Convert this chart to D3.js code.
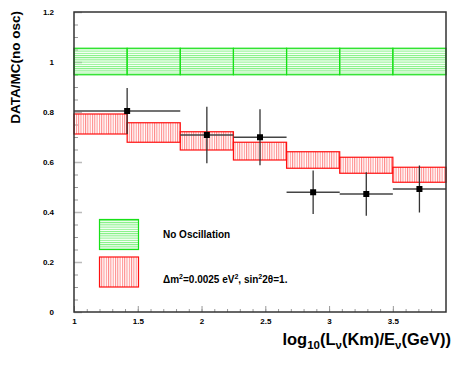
<!DOCTYPE html>
<html>
<meta charset="UTF-8">
<script src="https://d3js.org/d3.v7.min.js"></script>
<style>
  body { margin: 0; background: #fff; }
  text { font-family: "Liberation Sans", Arial, Helvetica, sans-serif; font-weight: bold; fill: #000; }
</style>
<body>
<svg id="ch" width="463" height="365"></svg>
<script>
// bin edges in log10(L/E)
var binEdges = [1, 1.4167, 1.8333, 2.25, 2.6667, 3.0833, 3.5, 3.9167];
// no oscillation band
var noOscLow  = [0.949, 0.949, 0.949, 0.949, 0.949, 0.949, 0.949];
var noOscHigh = [1.055, 1.055, 1.055, 1.055, 1.055, 1.055, 1.055];
// oscillation expectation band
var oscLow  = [0.712, 0.679, 0.648, 0.608, 0.575, 0.555, 0.519];
var oscHigh = [0.792, 0.757, 0.721, 0.679, 0.641, 0.619, 0.579];
// data points
var ptLo  = [1, 1.8333, 2.25, 2.6667, 3.0833, 3.5];
var ptHi  = [1.8333, 2.25, 2.6667, 3.0833, 3.5, 3.9167];
var ptVal = [0.804, 0.708, 0.699, 0.479, 0.472, 0.492];
var ptErr = [0.092, 0.113, 0.112, 0.087, 0.087, 0.094];
// ticks
var yMajor = [0, 0.2, 0.4, 0.6, 0.8, 1, 1.2];
var xMajor = [1, 1.5, 2, 2.5, 3, 3.5];

var svg = d3.select("#ch");
var pLeft = 74, pRight = 446, pTop = 12, pBottom = 312;

var x = d3.scaleLinear().domain([1, 3.9167]).range([pLeft, pRight]);
var y = d3.scaleLinear().domain([0, 1.2]).range([pBottom, pTop]);

// hatch patterns
var defs = svg.append("defs");
var pg = defs.append("pattern").attr("id", "hgreen")
  .attr("patternUnits", "userSpaceOnUse").attr("width", 10).attr("height", 2.2);
pg.append("line").attr("x1", 0).attr("x2", 10).attr("y1", 0.5).attr("y2", 0.5)
  .attr("stroke", "#7cf07c").attr("stroke-width", 1);
var pr = defs.append("pattern").attr("id", "vred")
  .attr("patternUnits", "userSpaceOnUse").attr("width", 2.3).attr("height", 10);
pr.append("line").attr("x1", 0.5).attr("x2", 0.5).attr("y1", 0).attr("y2", 10)
  .attr("stroke", "#ff8a8a").attr("stroke-width", 1);

// minor ticks
var yMinor = d3.range(0, 1.2001, 0.05);
var xMinor = d3.range(1, 3.9, 0.1);

svg.append("g")
  .attr("transform", "translate(" + pLeft + ",0)")
  .call(d3.axisLeft(y).tickValues(yMinor).tickSize(-4).tickFormat(""))
  .call(function (g) { g.select(".domain").remove(); g.selectAll("line").attr("stroke", "#999"); });

svg.append("g")
  .attr("transform", "translate(0," + pBottom + ")")
  .call(d3.axisBottom(x).tickValues(xMinor).tickSize(-3).tickFormat(""))
  .call(function (g) { g.select(".domain").remove(); g.selectAll("line").attr("stroke", "#999"); });

var yAx = svg.append("g")
  .attr("transform", "translate(" + pLeft + ",0)")
  .call(d3.axisLeft(y).tickValues(yMajor).tickSize(-8).tickPadding(20)
    .tickFormat(function (d) { return String(+d.toFixed(1)); }));
yAx.select(".domain").remove();
yAx.selectAll("line").attr("stroke", "#bbb").attr("stroke-width", 1.5);
yAx.selectAll("text").style("font-size", "8px").style("font-weight", "bold").attr("fill", "#000");

var xAx = svg.append("g")
  .attr("transform", "translate(0," + pBottom + ")")
  .call(d3.axisBottom(x).tickValues(xMajor).tickSize(-6).tickPadding(6)
    .tickFormat(function (d) { return String(d); }));
xAx.select(".domain").remove();
xAx.selectAll("line").attr("stroke", "#999");
xAx.selectAll("text").style("font-size", "8px").style("font-weight", "bold").attr("fill", "#000");

// no oscillation band
var bins = d3.range(7);
svg.append("g").selectAll("rect").data(bins).join("rect")
  .attr("x", function (i) { return x(binEdges[i]); })
  .attr("width", function (i) { return x(binEdges[i + 1]) - x(binEdges[i]); })
  .attr("y", function (i) { return y(noOscHigh[i]); })
  .attr("height", function (i) { return y(noOscLow[i]) - y(noOscHigh[i]); })
  .attr("fill", "url(#hgreen)")
  .attr("stroke", "#18e018").attr("stroke-width", 1.2);

// oscillation band
svg.append("g").selectAll("rect").data(bins).join("rect")
  .attr("x", function (i) { return x(binEdges[i]); })
  .attr("width", function (i) { return x(binEdges[i + 1]) - x(binEdges[i]); })
  .attr("y", function (i) { return y(oscHigh[i]); })
  .attr("height", function (i) { return y(oscLow[i]) - y(oscHigh[i]); })
  .attr("fill", "url(#vred)")
  .attr("stroke", "#ff1010").attr("stroke-width", 1.2);

// data with error bars
var pts = d3.range(ptVal.length);
var eb = svg.append("g");
eb.selectAll("line.h").data(pts).join("line").attr("class", "h")
  .attr("x1", function (i) { return x(ptLo[i]); })
  .attr("x2", function (i) { return x(ptHi[i]); })
  .attr("y1", function (i) { return y(ptVal[i]); })
  .attr("y2", function (i) { return y(ptVal[i]); })
  .attr("stroke", "#444").attr("stroke-width", 1.3);
eb.selectAll("line.v").data(pts).join("line").attr("class", "v")
  .attr("x1", function (i) { return x((ptLo[i] + ptHi[i]) / 2); })
  .attr("x2", function (i) { return x((ptLo[i] + ptHi[i]) / 2); })
  .attr("y1", function (i) { return y(ptVal[i] + ptErr[i]); })
  .attr("y2", function (i) { return y(ptVal[i] - ptErr[i]); })
  .attr("stroke", "#333").attr("stroke-width", 1.3);
eb.selectAll("rect").data(pts).join("rect")
  .attr("x", function (i) { return x((ptLo[i] + ptHi[i]) / 2) - 3; })
  .attr("y", function (i) { return y(ptVal[i]) - 3; })
  .attr("width", 6).attr("height", 6)
  .attr("fill", "#000");

// frame
svg.append("rect")
  .attr("x", pLeft).attr("y", pTop)
  .attr("width", pRight - pLeft).attr("height", pBottom - pTop)
  .attr("fill", "none").attr("stroke", "#333").attr("stroke-width", 1.5);

// legend
var lg = svg.append("g");
lg.append("rect").attr("x", 99.5).attr("y", 219.5).attr("width", 39).attr("height", 30)
  .attr("fill", "url(#hgreen)").attr("stroke", "#18e018").attr("stroke-width", 1.2);
lg.append("rect").attr("x", 99.5).attr("y", 257).attr("width", 39).attr("height", 30)
  .attr("fill", "url(#vred)").attr("stroke", "#ff1010").attr("stroke-width", 1.2);
lg.append("text").attr("x", 163).attr("y", 237.5).style("font-size", "10px").text("No Oscillation");
var t2 = lg.append("text").attr("x", 163).attr("y", 282.5).style("font-size", "10px");
t2.append("tspan").text("\u0394m");
t2.append("tspan").attr("dy", -4).style("font-size", "7px").text("2");
t2.append("tspan").attr("dy", 4).text("=0.0025 eV");
t2.append("tspan").attr("dy", -4).style("font-size", "7px").text("2");
t2.append("tspan").attr("dy", 4).text(", sin");
t2.append("tspan").attr("dy", -4).style("font-size", "7px").text("2");
t2.append("tspan").attr("dy", 4).text("2\u03b8=1.");

// axis titles
svg.append("text")
  .attr("transform", "translate(20," + (pTop - 1) + ") rotate(-90)")
  .attr("text-anchor", "end")
  .style("font-size", "13.5px")
  .text("DATA/MC(no osc)");

var xt = svg.append("text").attr("x", 451).attr("y", 345)
  .attr("text-anchor", "end").style("font-size", "16.5px");
xt.append("tspan").text("log");
xt.append("tspan").attr("dy", 4).style("font-size", "11.5px").text("10");
xt.append("tspan").attr("dy", -4).text("(L");
xt.append("tspan").attr("dy", 4).style("font-size", "11.5px").text("\u03bd");
xt.append("tspan").attr("dy", -4).text("(Km)/E");
xt.append("tspan").attr("dy", 4).style("font-size", "11.5px").text("\u03bd");
xt.append("tspan").attr("dy", -4).text("(GeV))");
</script>
</body>
</html>
